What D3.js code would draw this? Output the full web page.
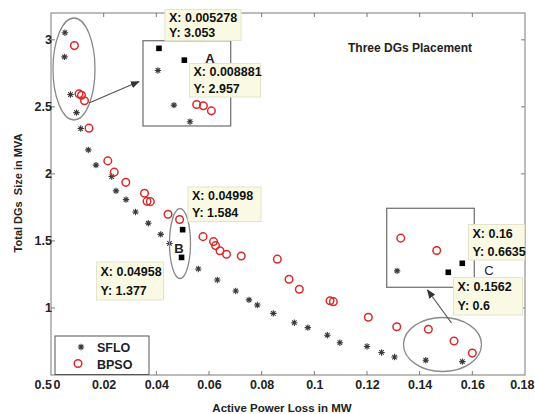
<!DOCTYPE html>
<html>
<head>
<meta charset="utf-8">
<script src="https://cdn.jsdelivr.net/npm/d3@7"></script>
<style>
  body { margin: 0; background: #fff; }
  text { font-family: "Liberation Sans", Arial, sans-serif; }
</style>
</head>
<body>
<div id="chart"></div>
<script>
// ---- data ----
var sfloLoss = [0.005278, 0.00513, 0.0074, 0.00968, 0.01128, 0.01417, 0.01709, 0.02305, 0.02469, 0.02848,
  0.03209, 0.03695, 0.04166, 0.0450, 0.04958, 0.05594, 0.06316, 0.07015, 0.0752, 0.07835,
  0.08443, 0.0924, 0.09753, 0.10494, 0.10969, 0.12, 0.12552, 0.13046, 0.14231, 0.1562];
var sfloSize = [3.053, 2.873, 2.592, 2.457, 2.338, 2.179, 2.065, 1.980, 1.873, 1.808,
  1.716, 1.632, 1.549, 1.481, 1.377, 1.291, 1.209, 1.127, 1.060, 1.022,
  0.960, 0.890, 0.853, 0.797, 0.741, 0.713, 0.668, 0.634, 0.610, 0.6];

var bpsoLoss = [0.008881, 0.01063, 0.01158, 0.01272, 0.01443, 0.02157, 0.024, 0.02841, 0.03551, 0.03646,
  0.03771, 0.04444, 0.04884, 0.04998, 0.05773, 0.06172, 0.06248, 0.06418, 0.06665, 0.07224,
  0.08595, 0.09039, 0.0943, 0.10596, 0.10722, 0.12051, 0.1313, 0.1433, 0.15306, 0.16];
var bpsoSize = [2.957, 2.597, 2.586, 2.545, 2.341, 2.097, 2.013, 1.937, 1.856, 1.795,
  1.793, 1.699, 1.660, 1.584, 1.532, 1.495, 1.465, 1.427, 1.401, 1.388,
  1.364, 1.214, 1.140, 1.054, 1.047, 0.931, 0.860, 0.841, 0.754, 0.6635];

// data cursors (A: 0,1  B: 2,3  C: 4,5)
var cursorLoss = [0.005278, 0.008881, 0.04998, 0.04958, 0.16, 0.1562];
var cursorSize = [3.053, 2.957, 1.584, 1.377, 0.6635, 0.6];

var xTicks = [0, 0.02, 0.04, 0.06, 0.08, 0.1, 0.12, 0.14, 0.16, 0.18];
var yTicks = [0.5, 1, 1.5, 2, 2.5, 3];
var seriesNames = ["SFLO", "BPSO"];

var svgWidth = 535, svgHeight = 414;
var plot = { left: 51, right: 525, top: 13, bottom: 375 };

var svg = d3.select("#chart").append("svg")
  .attr("width", svgWidth)
  .attr("height", svgHeight);

svg.append("rect").attr("width", svgWidth).attr("height", svgHeight).attr("fill", "#fff");

var x = d3.scaleLinear().domain([0, 0.18]).range([plot.left, plot.right]);
var y = d3.scaleLinear().domain([0.5, 3.2]).range([plot.bottom, plot.top]);

var sflo = sfloLoss.map((d, i) => ({ x: d, y: sfloSize[i] }));
var bpso = bpsoLoss.map((d, i) => ({ x: d, y: bpsoSize[i] }));
var cursors = cursorLoss.map((d, i) => ({ x: d, y: cursorSize[i] }));

// points hidden under a cursor square
function notUnder(list) {
  return function(d) {
    return !list.some(c => c.x === d.x && c.y === d.y);
  };
}

// ---- axes ----
var frameColor = "#7a7a7a";
svg.append("rect")
  .attr("x", plot.left).attr("y", plot.top)
  .attr("width", plot.right - plot.left).attr("height", plot.bottom - plot.top)
  .attr("fill", "none").attr("stroke", frameColor).attr("stroke-width", 1);

// inward ticks on all four sides
var tickLen = 4;
xTicks.slice(1, -1).forEach(function(t) {
  svg.append("line").attr("x1", x(t)).attr("x2", x(t)).attr("y1", plot.bottom).attr("y2", plot.bottom - tickLen)
    .attr("stroke", frameColor);
  svg.append("line").attr("x1", x(t)).attr("x2", x(t)).attr("y1", plot.top).attr("y2", plot.top + tickLen)
    .attr("stroke", frameColor);
});
yTicks.slice(1).forEach(function(t) {
  svg.append("line").attr("x1", plot.left).attr("x2", plot.left + tickLen).attr("y1", y(t)).attr("y2", y(t))
    .attr("stroke", frameColor);
  svg.append("line").attr("x1", plot.right).attr("x2", plot.right - tickLen).attr("y1", y(t)).attr("y2", y(t))
    .attr("stroke", frameColor);
});

var bottomAxis = d3.axisBottom(x).tickValues(xTicks).tickSize(0).tickPadding(5)
  .tickFormat(d => d === 0 ? "0" : d3.format("~g")(d));
var xAxisG = svg.append("g").attr("transform", `translate(0, ${plot.bottom})`).call(bottomAxis);
xAxisG.select(".domain").remove();
xAxisG.selectAll("text")
  .attr("font-size", "12.5px").attr("font-weight", "bold").attr("fill", "#222")
  .attr("font-family", "Liberation Sans, Arial, sans-serif");
xAxisG.selectAll("text").filter(d => d === 0).attr("text-anchor", "start").attr("dx", 2);
xAxisG.selectAll("text").filter(d => d === 0.18).attr("text-anchor", "end").attr("dx", 9);

var leftAxis = d3.axisLeft(y).tickValues(yTicks).tickSize(0).tickPadding(0).tickFormat(d3.format("~g"));
var yAxisG = svg.append("g").attr("transform", `translate(${plot.left + 1}, 0)`).call(leftAxis);
yAxisG.select(".domain").remove();
yAxisG.selectAll("text")
  .attr("font-size", "12.5px").attr("font-weight", "bold").attr("fill", "#222")
  .attr("font-family", "Liberation Sans, Arial, sans-serif")
  .filter(d => d === 0.5).attr("dy", "1.05em");

svg.append("text")
  .attr("x", 282).attr("y", 412)
  .attr("text-anchor", "middle")
  .attr("font-size", "11.5px").attr("font-weight", "bold").attr("fill", "#222")
  .text("Active Power Loss in MW");

svg.append("text")
  .attr("transform", "translate(22, 193) rotate(-90)")
  .attr("text-anchor", "middle")
  .attr("font-size", "11px").attr("font-weight", "bold").attr("fill", "#222")
  .style("white-space", "pre")
  .text("Total DGs  Size in MVA");

svg.append("text")
  .attr("x", 348).attr("y", 51.5)
  .attr("font-size", "12px").attr("font-weight", "bold").attr("fill", "#222")
  .text("Three DGs Placement");

// ---- marker helpers ----
var starPath = function(r) {
  var a = r * 0.7;
  return `M${-r},0L${r},0M0,${-r}L0,${r}M${-a},${-a}L${a},${a}M${-a},${a}L${a},${-a}`;
};
function drawStars(g, data, sx, sy) {
  g.selectAll(null).data(data).enter().append("path")
    .attr("d", starPath(3.2))
    .attr("transform", d => `translate(${sx(d.x)}, ${sy(d.y)})`)
    .attr("fill", "none").attr("stroke", "#3a3a3a").attr("stroke-width", 1.1);
}
function drawCircles(g, data, sx, sy) {
  g.selectAll(null).data(data).enter().append("circle")
    .attr("cx", d => sx(d.x)).attr("cy", d => sy(d.y))
    .attr("r", 3.8)
    .attr("fill", "none").attr("stroke", "#d92b2b").attr("stroke-width", 1.5);
}
function drawSquares(g, data, sx, sy) {
  g.selectAll(null).data(data).enter().append("rect")
    .attr("x", d => sx(d.x) - 2.8).attr("y", d => sy(d.y) - 2.8)
    .attr("width", 5.6).attr("height", 5.6)
    .attr("fill", "#000");
}

// ---- main series ----
var mainCursors = cursors.slice(2, 4);
var marks = svg.append("g");
drawStars(marks, sflo.filter(notUnder(mainCursors)), x, y);
drawCircles(marks, bpso.filter(notUnder(mainCursors)), x, y);
drawSquares(marks, mainCursors, x, y);

// ---- annotations ----
var defs = svg.append("defs");
defs.append("marker")
  .attr("id", "arrow").attr("viewBox", "0 0 10 10")
  .attr("refX", 9).attr("refY", 5)
  .attr("markerWidth", 9).attr("markerHeight", 9)
  .attr("markerUnits", "userSpaceOnUse")
  .attr("orient", "auto")
  .append("path").attr("d", "M0,1L10,5L0,9Z").attr("fill", "#333");

var ellipses = [
  { cx: 74, cy: 69, rx: 21, ry: 51 },
  { cx: 180, cy: 243.5, rx: 10.5, ry: 35 },
  { cx: 442.5, cy: 344.5, rx: 39, ry: 27 }
];
svg.selectAll(null).data(ellipses).enter().append("ellipse")
  .attr("cx", d => d.cx).attr("cy", d => d.cy).attr("rx", d => d.rx).attr("ry", d => d.ry)
  .attr("fill", "none").attr("stroke", "#8a8a8a").attr("stroke-width", 1.3);

var arrows = [
  { x1: 89, y1: 103, x2: 139, y2: 81.5 },
  { x1: 451.5, y1: 323, x2: 427.5, y2: 290 }
];
svg.selectAll(null).data(arrows).enter().append("line")
  .attr("x1", d => d.x1).attr("y1", d => d.y1).attr("x2", d => d.x2).attr("y2", d => d.y2)
  .attr("stroke", "#555").attr("stroke-width", 1.2)
  .attr("marker-end", "url(#arrow)");

// zoomed insets
var insets = [
  { id: "insetA", x0: 143, y0: 40.7, x1: 230.7, y1: 126, xd: [0.00301, 0.01546], yd: [3.115, 2.422], cur: [0, 1] },
  { id: "insetC", x0: 386.7, y0: 208.3, x1: 474.3, y1: 287.3, xd: [0.13948, 0.16326], yd: [1.0517, 0.494], cur: [4, 5] }
];
insets.forEach(function(b) {
  defs.append("clipPath").attr("id", b.id)
    .append("rect").attr("x", b.x0).attr("y", b.y0).attr("width", b.x1 - b.x0).attr("height", b.y1 - b.y0);
  svg.append("rect")
    .attr("x", b.x0).attr("y", b.y0).attr("width", b.x1 - b.x0).attr("height", b.y1 - b.y0)
    .attr("fill", "#fff").attr("stroke", "#777").attr("stroke-width", 1.3);
  var ix = d3.scaleLinear().domain(b.xd).range([b.x0, b.x1]);
  var iy = d3.scaleLinear().domain(b.yd).range([b.y0, b.y1]);
  var cur = b.cur.map(i => cursors[i]);
  var g = svg.append("g").attr("clip-path", `url(#${b.id})`);
  drawStars(g, sflo.filter(notUnder(cur)), ix, iy);
  drawCircles(g, bpso.filter(notUnder(cur)), ix, iy);
  drawSquares(g, cur, ix, iy);
});

var letters = [
  { t: "A", x: 210, y: 62.5, w: "bold" },
  { t: "B", x: 179, y: 253, w: "bold" },
  { t: "C", x: 489, y: 275, w: "normal" }
];
svg.selectAll(null).data(letters).enter().append("text")
  .attr("x", d => d.x).attr("y", d => d.y).attr("text-anchor", "middle")
  .attr("font-size", "13px").attr("font-weight", d => d.w).attr("fill", "#222")
  .text(d => d.t);

// data tips
var tips = [
  { c: 0, x: 165, y: 9.5, w: 76, h: 31 },
  { c: 1, x: 189.5, y: 63.5, w: 71, h: 33.5 },
  { c: 2, x: 188, y: 187, w: 73, h: 34.5 },
  { c: 3, x: 96.5, y: 262, w: 67, h: 38 },
  { c: 4, x: 468.5, y: 224.5, w: 56, h: 35.5 },
  { c: 5, x: 453.5, y: 277.5, w: 69, h: 37.5 }
];
var tipFormat = d3.format("~g");
tips.forEach(function(t) {
  var d = cursors[t.c];
  var g = svg.append("g");
  g.append("rect").attr("x", t.x).attr("y", t.y).attr("width", t.w).attr("height", t.h)
    .attr("fill", "#fafae4").attr("stroke", "#e4e4cc").attr("stroke-width", 1);
  var lineGap = t.h / 2;
  g.append("text").attr("x", t.x + 4).attr("y", t.y + t.h * 0.25 + 4.5)
    .attr("font-size", "12.5px").attr("font-weight", "bold").attr("fill", "#111")
    .text("X: " + tipFormat(d.x));
  g.append("text").attr("x", t.x + 4).attr("y", t.y + t.h * 0.25 + 4.5 + lineGap)
    .attr("font-size", "12.5px").attr("font-weight", "bold").attr("fill", "#111")
    .text("Y: " + tipFormat(d.y));
});

// ---- legend ----
var legend = svg.append("g");
legend.append("rect").attr("x", 55).attr("y", 336).attr("width", 94).attr("height", 38.5)
  .attr("fill", "#fff").attr("stroke", "#555").attr("stroke-width", 1);
legend.append("path").attr("d", starPath(3.2)).attr("transform", "translate(81, 347)")
  .attr("fill", "none").attr("stroke", "#3a3a3a").attr("stroke-width", 1.1);
legend.append("circle").attr("cx", 78).attr("cy", 363.5).attr("r", 3.8)
  .attr("fill", "none").attr("stroke", "#d92b2b").attr("stroke-width", 1.5);
legend.selectAll(null).data(seriesNames).enter().append("text")
  .attr("x", 97).attr("y", (d, i) => 351.5 + i * 17)
  .attr("font-size", "12.5px").attr("font-weight", "bold").attr("fill", "#222")
  .text(d => d);
</script>
</body>
</html>
